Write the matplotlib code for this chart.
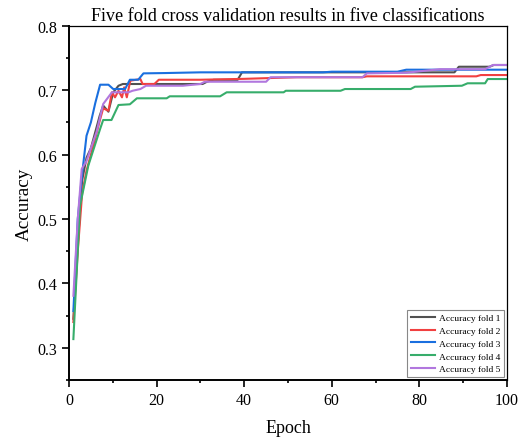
import matplotlib
matplotlib.use("Agg")
import matplotlib.pyplot as plt
from matplotlib.ticker import MultipleLocator

plt.rcParams['font.family'] = ['Liberation Serif', 'DejaVu Serif']

# accuracy per epoch for each fold
epoch_1 = [1, 2, 3, 4, 5, 6, 7, 7.8, 9, 10.1, 11.3, 12.3, 30.5, 31.5, 33, 38.5, 39.5, 88, 89, 96, 97, 100]
acc_1 = [0.345, 0.46, 0.56, 0.595, 0.61, 0.635, 0.66, 0.676, 0.6665, 0.6966, 0.7068, 0.7095, 0.7095, 0.713,
         0.716, 0.716, 0.7276, 0.7276, 0.7363, 0.7363, 0.739, 0.739]

epoch_2 = [1, 2, 3, 4, 5, 6, 7, 7.8, 9, 9.8, 10.5, 11.3, 12.1, 12.6, 13.2, 14, 16.3, 16.8, 19.5, 20.5,
           30, 40, 52, 67, 68, 93, 94, 100]
acc_2 = [0.34, 0.45, 0.54, 0.575, 0.60, 0.625, 0.652, 0.6717, 0.668, 0.6966, 0.6888, 0.699, 0.6888, 0.7043,
         0.6888, 0.7146, 0.7172, 0.7095, 0.7095, 0.7161, 0.7161, 0.7175, 0.72, 0.72, 0.7214, 0.7214, 0.7234, 0.7234]

epoch_3 = [1, 2, 3, 4, 5, 6, 7.1, 9, 10.1, 12.8, 13.9, 15.8, 17, 22, 30, 58, 60, 75, 77, 100]
acc_3 = [0.357, 0.50, 0.57, 0.6292, 0.65, 0.68, 0.7084, 0.7084, 0.7017, 0.7017, 0.7161, 0.7161, 0.726, 0.7265,
         0.7276, 0.7276, 0.7286, 0.7286, 0.7317, 0.7317]

epoch_4 = [1, 2, 2.5, 4.4, 5.5, 7.1, 7.8, 9.7, 11.3, 13.9, 15.5, 22.3, 23, 34.5, 36, 49, 49.5, 62, 63, 78,
           79, 89.7, 91, 95, 95.6, 100]
acc_4 = [0.3135, 0.45, 0.52, 0.5826, 0.6059, 0.6396, 0.6536, 0.6536, 0.6769, 0.678, 0.6873, 0.6873, 0.6904,
         0.6904, 0.6966, 0.6966, 0.699, 0.699, 0.7017, 0.7017, 0.7053, 0.7068, 0.7106, 0.7106, 0.7172, 0.7172]

epoch_5 = [1, 2, 2.9, 4, 5, 6.3, 7.8, 9.8, 13.6, 14.5, 16.3, 17.6, 26, 30, 31, 45, 46, 67, 68, 77, 84.7,
           95, 96.8, 100]
acc_5 = [0.3807, 0.50, 0.5775, 0.59, 0.61, 0.635, 0.6784, 0.6966, 0.6966, 0.699, 0.7017, 0.7068, 0.7068,
         0.7095, 0.713, 0.713, 0.72, 0.72, 0.726, 0.727, 0.7325, 0.7325, 0.739, 0.739]

labels = ['Accuracy fold 1', 'Accuracy fold 2', 'Accuracy fold 3', 'Accuracy fold 4', 'Accuracy fold 5']
colors = ['#515151', '#F14040', '#1A6FDF', '#37AD6B', '#B177DE']

fig = plt.figure(figsize=(5.18, 4.39), dpi=100)
ax = fig.add_axes([69 / 518, 1 - 381 / 439, (507 - 69) / 518, (381 - 26.7) / 439])

series = [(epoch_1, acc_1), (epoch_2, acc_2), (epoch_3, acc_3), (epoch_4, acc_4), (epoch_5, acc_5)]
for (x, y), lab, c in zip(series, labels, colors):
    ax.plot(x, y, color=c, linewidth=1.5, label=lab)

ax.set_xlim(0, 100)
ax.set_ylim(0.25, 0.8)
ax.xaxis.set_major_locator(MultipleLocator(20))
ax.xaxis.set_minor_locator(MultipleLocator(10))
ax.yaxis.set_major_locator(MultipleLocator(0.1))
ax.yaxis.set_minor_locator(MultipleLocator(0.05))
ax.yaxis.set_major_formatter(matplotlib.ticker.FormatStrFormatter('%.1f'))
ax.tick_params(which='major', direction='out', length=5, width=1.2, labelsize=11.5, pad=3.5)
ax.tick_params(which='minor', direction='out', length=2.5, width=1.2)

for side in ['left', 'bottom']:
    ax.spines[side].set_linewidth(1.4)
for side in ['top', 'right']:
    ax.spines[side].set_linewidth(0.9)

ax.set_title('Five fold cross validation results in five classifications', fontsize=13.1, pad=4)
ax.set_xlabel('Epoch', fontsize=13, labelpad=8)
ax.set_ylabel('Accuracy', fontsize=13.8, labelpad=3)

leg = ax.legend(loc='lower right', fontsize=6.8, frameon=True, fancybox=False, framealpha=1,
                edgecolor='#888888', borderaxespad=0.3, labelspacing=0.45, handlelength=2.6,
                handletextpad=0.4, borderpad=0.4)
leg.get_frame().set_linewidth(0.8)

fig.savefig('out.png', dpi=100)
